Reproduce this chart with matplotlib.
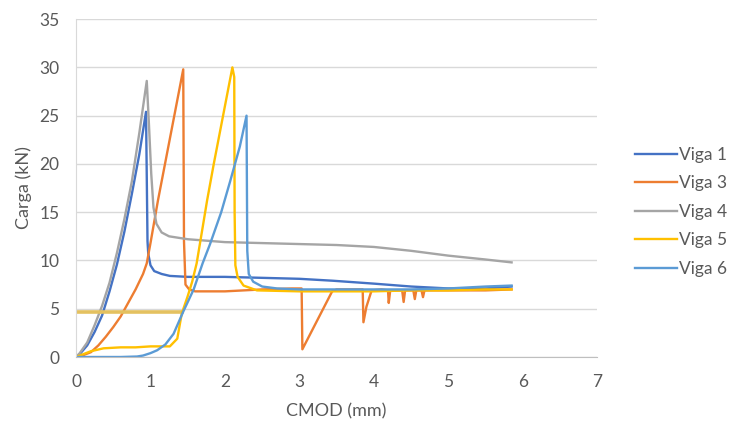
import numpy as np
import matplotlib
matplotlib.use("Agg")
import matplotlib.pyplot as plt

plt.rcParams["font.family"] = ["Lato", "DejaVu Sans"]

# Viga 1
v1_x = [0, 0.05, 0.15, 0.25, 0.35, 0.45, 0.55, 0.65, 0.75, 0.85, 0.94, 0.96, 0.97,
        1.0, 1.05, 1.15, 1.26, 1.5, 2.0, 2.5, 3.0, 3.45, 4.0, 4.5, 5.0, 5.5, 5.85]
v1_y = [0, 0.3, 1.2, 2.6, 4.3, 6.8, 9.6, 13.0, 16.9, 21.0, 25.4, 12.0, 10.7,
        9.5, 8.9, 8.6, 8.4, 8.3, 8.3, 8.2, 8.1, 7.9, 7.6, 7.3, 7.1, 7.1, 7.3]

# Viga 3
v3_x = [0, 0.1, 0.2, 0.3, 0.4, 0.5, 0.6, 0.7, 0.8, 0.9, 0.95, 1.0, 1.1, 1.2, 1.3, 1.44,
        1.45, 1.47, 1.52, 1.6, 2.0, 2.5, 2.9, 3.03, 3.04, 3.44, 3.5, 3.8, 3.85,
        3.86, 3.9, 3.97, 4.1, 4.19, 4.2, 4.22, 4.38, 4.4, 4.42, 4.53, 4.55, 4.57,
        4.64, 4.66, 4.68, 5.0, 5.5, 5.85]
v3_y = [0, 0.2, 0.5, 1.2, 2.1, 3.1, 4.2, 5.6, 7.0, 8.6, 9.7, 11.8, 16.2, 20.2, 24.2, 29.8,
        12.0, 7.5, 7.0, 6.8, 6.8, 7.0, 7.1, 7.1, 0.8, 6.8, 7.0, 7.0, 7.0,
        3.6, 5.2, 6.9, 7.0, 6.9, 5.6, 6.9, 6.9, 5.7, 6.9, 6.9, 6.0, 6.9,
        6.9, 6.2, 6.9, 6.9, 6.9, 7.0]

# Viga 4
v4_x = [0, 0.05, 0.15, 0.25, 0.35, 0.45, 0.55, 0.65, 0.75, 0.85, 0.95, 0.98, 1.01,
        1.04, 1.08, 1.15, 1.25, 1.5, 2.0, 2.5, 3.0, 3.5, 4.0, 4.5, 5.0, 5.5, 5.85]
v4_y = [0, 0.4, 1.5, 3.3, 5.3, 7.7, 10.8, 14.3, 18.2, 23.2, 28.6, 24.0, 19.0,
        15.5, 13.8, 12.9, 12.5, 12.2, 11.9, 11.8, 11.7, 11.6, 11.4, 11.0, 10.5, 10.1, 9.8]

# Viga 5 (flat segment at the start drawn apart, as in the source)
v5_flat_x = [0, 1.42]
v5_flat_y = [4.65, 4.65]
v5_x = [0, 0.1, 0.2, 0.37, 0.6, 0.8, 1.0, 1.26, 1.36, 1.42, 1.5, 1.56, 1.62,
        1.7, 1.76, 1.85, 1.95, 2.03, 2.10, 2.125, 2.13, 2.14, 2.17, 2.25, 2.43,
        3.0, 3.5, 4.0, 4.5, 5.0, 5.5, 5.85]
v5_y = [0, 0.3, 0.6, 0.9, 1.0, 1.0, 1.1, 1.1, 1.9, 4.5, 6.3, 7.8, 9.7,
        13.4, 16.2, 20.0, 24.0, 27.2, 30.0, 29.0, 15.0, 9.5, 8.3, 7.4, 6.9,
        6.8, 6.8, 6.8, 6.9, 6.9, 7.0, 7.0]

# Viga 6
v6_x = [0, 0.2, 0.4, 0.6, 0.82, 0.9, 1.0, 1.09, 1.2, 1.31, 1.44, 1.58, 1.7, 1.8, 1.95,
        2.07, 2.2, 2.29, 2.30, 2.32, 2.38, 2.5, 2.7, 3.0, 3.5, 4.0, 4.5, 5.0, 5.5, 5.85]
v6_y = [0, 0, 0, 0, 0.05, 0.15, 0.4, 0.7, 1.3, 2.4, 4.7, 7.0, 9.7, 11.7, 15.0,
        18.2, 21.8, 25.0, 11.0, 8.6, 7.8, 7.3, 7.1, 7.0, 7.0, 7.0, 7.0, 7.1, 7.3, 7.4]

series = [
    ("Viga 1", v1_x, v1_y, "#4472C4"),
    ("Viga 3", v3_x, v3_y, "#ED7D31"),
    ("Viga 4", v4_x, v4_y, "#A5A5A5"),
    ("Viga 5", v5_x, v5_y, "#FFC000"),
    ("Viga 6", v6_x, v6_y, "#5B9BD5"),
]

fig = plt.figure(figsize=(7.31, 4.25), dpi=100)
ax = fig.add_axes([0.104, 0.16, 0.713, 0.795])

for name, x, y, c in series:
    if name == "Viga 5":
        ax.plot(v5_flat_x, v5_flat_y, color="#E4C160", lw=2.6, label="_nolegend_")
    ax.plot(x, y, color=c, lw=1.7, label=name)

ax.set_xlim(0, 7)
ax.set_ylim(0, 35)
ax.set_xticks(range(0, 8))
ax.set_yticks(range(0, 36, 5))
ax.grid(axis="y", color="#D9D9D9", lw=1)
ax.set_axisbelow(True)
for s in ["top", "right"]:
    ax.spines[s].set_visible(False)
ax.spines["left"].set_color("#D9D9D9")
ax.spines["bottom"].set_color("#BFBFBF")
ax.tick_params(length=0, labelsize=12.5, labelcolor="#595959")
ax.tick_params(axis="x", pad=12)
ax.tick_params(axis="y", pad=12)
ax.set_xlabel("CMOD (mm)", fontsize=13, color="#595959", labelpad=10)
ax.set_ylabel("Carga (kN)", fontsize=13, color="#595959", labelpad=5)

fig.legend(loc="center left", bbox_to_anchor=(0.857, 0.502), frameon=False,
           fontsize=12.5, labelcolor="#595959", handlelength=2.4,
           handletextpad=0.1, labelspacing=0.72, borderpad=0)

fig.savefig("out.png", dpi=100)
